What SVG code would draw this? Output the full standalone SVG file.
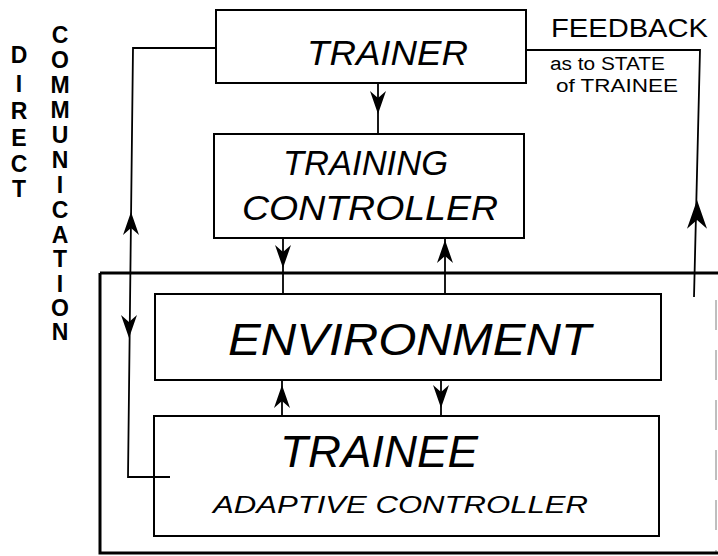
<svg xmlns="http://www.w3.org/2000/svg" width="718" height="556" viewBox="0 0 718 556">
<style>
.box{fill:none;stroke:#000;stroke-width:2}
.outer{fill:none;stroke:#000;stroke-width:3}
.ln{fill:none;stroke:#000;stroke-width:1.8}
.lbl{font-family:"Liberation Sans",Arial,sans-serif;font-style:italic;fill:#000}
.up{font-family:"Liberation Sans",Arial,sans-serif;fill:#000}
.vert{font-family:"Liberation Sans",Arial,sans-serif;font-size:23px;font-weight:bold;fill:#000;text-anchor:middle}
</style>
<defs>
<path id="ah" d="M0,0 L-8,23 L0,16 L8,23 Z" fill="#000"/>
</defs>
<rect width="718" height="556" fill="#fff"/>

<g id="system-boundary">
<path class="outer" d="M100,273 L718,273 M100,273 L100,553 L718,553"/>
<line x1="716" y1="300" x2="716" y2="553" stroke="#000" stroke-width="1" stroke-dasharray="30,20" opacity="0.5"/>
</g>

<g id="connectors">
<path class="ln" d="M216,48 L133,48 L128,477 L170,477"/>
<path class="ln" d="M526,50 L700,50 L694,297"/>
<line class="ln" x1="378" y1="83" x2="378" y2="134"/>
<line class="ln" x1="283" y1="238" x2="283" y2="295"/>
<line class="ln" x1="445" y1="238" x2="445" y2="295"/>
<line class="ln" x1="282" y1="381" x2="282" y2="417"/>
<line class="ln" x1="441" y1="381" x2="441" y2="417"/>
<use href="#ah" transform="translate(378,114) rotate(180)"/>
<use href="#ah" transform="translate(131,212)"/>
<use href="#ah" transform="translate(129,338) rotate(180)"/>
<use href="#ah" transform="translate(283,268) rotate(180)"/>
<use href="#ah" transform="translate(445,240)"/>
<use href="#ah" transform="translate(697,200) scale(1.25,1.25)"/>
<use href="#ah" transform="translate(282,385)"/>
<use href="#ah" transform="translate(441,408) rotate(180)"/>
</g>

<g id="trainer">
<rect class="box" x="216" y="10" width="310" height="73"/>
<text class="lbl" x="307" y="65" font-size="35" textLength="161" lengthAdjust="spacingAndGlyphs">TRAINER</text>
</g>

<g id="training-controller">
<rect class="box" x="214" y="134" width="310" height="104"/>
<text class="lbl" x="283" y="175" font-size="35" textLength="165" lengthAdjust="spacingAndGlyphs">TRAINING</text>
<text class="lbl" x="242" y="220" font-size="35" textLength="256" lengthAdjust="spacingAndGlyphs">CONTROLLER</text>
</g>

<g id="environment">
<rect class="box" x="155" y="294" width="506" height="86"/>
<text class="lbl" x="228" y="355" font-size="44" textLength="363" lengthAdjust="spacingAndGlyphs">ENVIRONMENT</text>
</g>

<g id="trainee">
<rect class="box" x="154" y="416" width="505" height="120"/>
<text class="lbl" x="280" y="467" font-size="44" textLength="198" lengthAdjust="spacingAndGlyphs">TRAINEE</text>
<text class="lbl" x="213" y="513" font-size="23" textLength="375" lengthAdjust="spacingAndGlyphs">ADAPTIVE CONTROLLER</text>
</g>

<g id="feedback-label">
<text class="up" x="551" y="37" font-size="26" textLength="157" lengthAdjust="spacingAndGlyphs">FEEDBACK</text>
<text class="up" x="550" y="70" font-size="18" textLength="115" lengthAdjust="spacingAndGlyphs">as to STATE</text>
<text class="up" x="556" y="92" font-size="18" textLength="122" lengthAdjust="spacingAndGlyphs">of TRAINEE</text>
</g>

<g id="direct-communication-label">
<text class="vert"><tspan x="19" y="63">D</tspan><tspan x="19" y="92">I</tspan><tspan x="19" y="119">R</tspan><tspan x="19" y="146">E</tspan><tspan x="19" y="172">C</tspan><tspan x="19" y="197">T</tspan></text>
<text class="vert"><tspan x="60" y="43">C</tspan><tspan x="60" y="68">O</tspan><tspan x="60" y="93">M</tspan><tspan x="60" y="118">M</tspan><tspan x="60" y="143">U</tspan><tspan x="60" y="168">N</tspan><tspan x="60" y="193">I</tspan><tspan x="60" y="218">C</tspan><tspan x="60" y="243">A</tspan><tspan x="60" y="267">T</tspan><tspan x="60" y="292">I</tspan><tspan x="60" y="316">O</tspan><tspan x="60" y="340">N</tspan></text>
</g>
</svg>
